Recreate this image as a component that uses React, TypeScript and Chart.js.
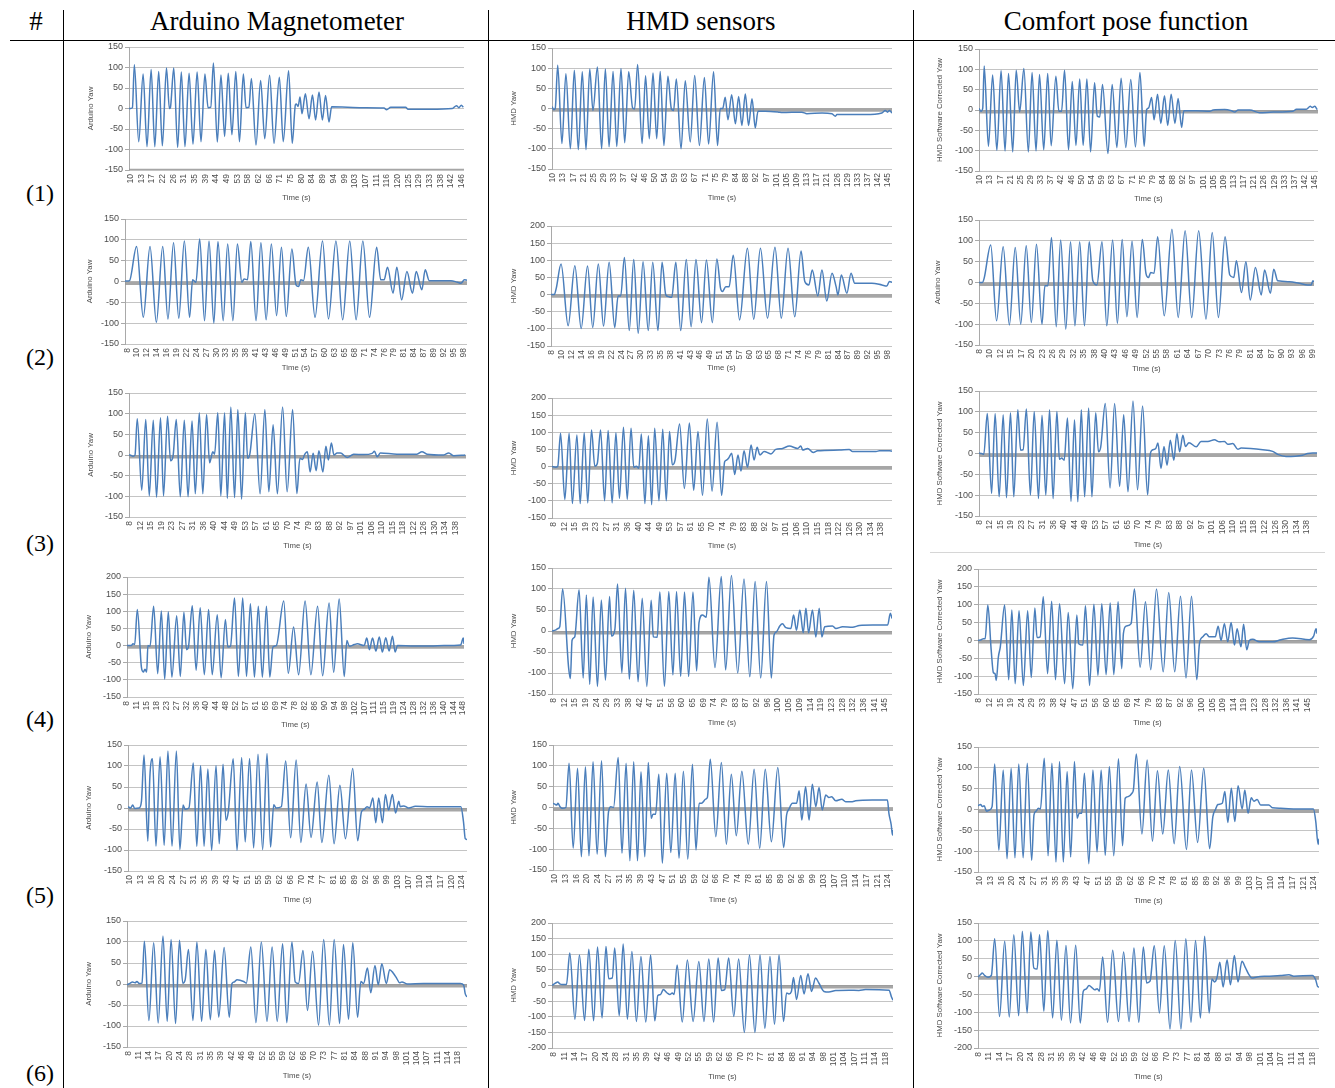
import React, { useEffect, useRef } from "react";
import { Chart, registerables } from "chart.js";

Chart.register(...registerables);

// ---------------- tick labels (time, s) ----------------
const TICKS_1A = [10, 13, 17, 22, 26, 31, 35, 39, 44, 49, 53, 58, 62, 66, 71, 75, 80, 84, 89, 94, 99, 103, 107, 111, 116, 120, 125, 129, 133, 138, 142, 146];
const TICKS_1BC = [10, 13, 17, 21, 25, 29, 33, 37, 42, 46, 50, 54, 59, 63, 67, 71, 75, 79, 84, 88, 92, 97, 101, 105, 109, 113, 117, 121, 126, 129, 133, 137, 142, 145];
const TICKS_2AB = [8, 10, 12, 14, 16, 19, 22, 24, 27, 30, 33, 35, 38, 41, 43, 46, 49, 51, 54, 57, 60, 63, 65, 68, 71, 74, 76, 79, 81, 84, 87, 89, 92, 95, 98];
const TICKS_2C = [8, 10, 12, 15, 17, 20, 23, 26, 29, 32, 35, 38, 40, 43, 46, 49, 52, 55, 58, 61, 64, 67, 70, 73, 76, 79, 81, 84, 87, 90, 93, 96, 99];
const TICKS_3 = [8, 12, 15, 19, 23, 27, 31, 36, 40, 44, 49, 53, 57, 61, 65, 70, 74, 79, 83, 88, 92, 97, 101, 106, 110, 115, 118, 122, 126, 130, 134, 138];
const TICKS_4A = [8, 11, 15, 18, 23, 27, 32, 36, 40, 44, 48, 52, 57, 61, 65, 69, 74, 78, 82, 86, 90, 94, 98, 102, 107, 111, 115, 119, 124, 128, 132, 136, 140, 144, 148];
const TICKS_4BC = [8, 12, 15, 19, 24, 29, 33, 38, 42, 47, 51, 56, 60, 65, 69, 74, 79, 83, 87, 92, 96, 100, 105, 109, 114, 119, 123, 128, 132, 136, 141, 145];
const TICKS_5A = [10, 13, 16, 20, 24, 27, 31, 35, 39, 43, 47, 51, 55, 59, 62, 66, 70, 74, 77, 81, 85, 89, 92, 96, 99, 103, 107, 110, 114, 117, 120, 124];
const TICKS_5BC = [10, 13, 16, 20, 24, 27, 31, 35, 39, 43, 47, 51, 55, 59, 62, 66, 70, 74, 78, 81, 85, 89, 92, 96, 99, 103, 107, 110, 114, 117, 121, 124];
const TICKS_6 = [8, 11, 14, 17, 20, 24, 28, 31, 35, 39, 42, 46, 49, 52, 55, 59, 62, 66, 70, 73, 77, 81, 84, 88, 91, 94, 98, 101, 104, 107, 111, 114, 118];

// ---------------- series: [time (s), yaw (deg)] ----------------
const ARDUINO_1 = [[9.3,0],[10,0],[10.7,2],[11.5,107],[13.3,-81],[15.1,84],[16.7,-93],[18.4,95],[19.9,-93],[21.5,90],[23.0,-91],[24.7,99],[25.9,0],[26.3,2],[27.7,99],[29.3,-95],[30.8,89],[32.3,-93],[34.0,86],[35.6,-87],[37.3,89],[38.9,-81],[40.5,84],[41.8,2],[42.9,3],[44.0,111],[45.6,-82],[47.1,82],[48.6,-68],[50.1,86],[51.6,-64],[53.2,90],[54.7,-81],[56.3,84],[57.4,2],[58.6,3],[59.6,73],[61.5,-89],[63.4,68],[65.1,-74],[67.1,81],[68.9,-85],[71.1,76],[72.7,-81],[74.9,92],[76.4,-85],[77.7,9],[78.1,11],[78.8,5],[79.6,28],[80.4,-13],[81.8,36],[83.3,-25],[84.7,33],[86.0,-28],[87.4,40],[88.8,-28],[90.1,32],[91.5,-33],[92.6,4],[99.1,3],[105.9,2],[114.1,1],[115.2,-3],[116.9,3],[123.0,3],[124.0,-2],[133.3,-2],[142.2,0],[143.9,7],[144.9,2],[145.9,8],[146.7,3]];
const ARDUINO_2 = [[7.4,1],[8,1],[8.6,2],[10.5,84],[12.3,-86],[14.1,84],[15.8,-98],[17.5,84],[18.9,-90],[20.4,93],[21.8,-88],[23.3,97],[24.7,-86],[25.5,4],[26.4,-2],[27.4,102],[28.7,-94],[29.9,97],[31.2,-100],[32.3,96],[33.7,-94],[34.9,90],[36.3,-94],[37.5,90],[38.7,-2],[39.3,6],[40.2,4],[41.1,96],[42.5,-94],[43.8,93],[45.2,-92],[46.6,90],[48.0,-82],[49.3,82],[50.6,-84],[52.1,78],[53.2,-8],[53.9,-12],[54.5,4],[55.2,2],[56.5,82],[58.3,-86],[60.3,97],[61.9,-90],[63.9,97],[65.7,-92],[67.6,97],[69.3,-92],[71.1,97],[72.9,-86],[74.8,82],[75.9,4],[76.8,4],[77.7,34],[79.2,-28],[80.2,34],[81.5,-44],[82.9,24],[84.4,-28],[85.4,24],[86.9,-20],[87.8,28],[88.9,2],[94.7,2],[96.5,-2],[97.4,-4],[98.3,4],[99,3]];
const ARDUINO_3 = [[7.6,0],[8,0],[9.2,-3],[10.0,0],[10.9,88],[12.7,-85],[14.3,86],[15.7,-99],[17.3,84],[18.6,-102],[20.2,90],[21.4,-99],[23.0,94],[24.2,-14],[25.2,-3],[26.5,86],[28.1,-101],[29.7,84],[31.2,-101],[32.8,82],[34.1,-94],[35.7,102],[37.1,-94],[38.6,98],[39.8,-19],[41.1,8],[41.8,2],[43.1,102],[44.3,-99],[45.8,102],[46.9,-105],[48.3,116],[49.8,-103],[51.1,110],[52.6,-107],[54.1,102],[55.0,-8],[55.9,2],[57.9,100],[60.0,-94],[61.9,110],[63.5,-89],[65.2,73],[66.9,-94],[69.0,116],[70.8,-89],[73.0,110],[74.7,-93],[75.9,-8],[77.0,-11],[77.7,0],[78.9,8],[80.0,-41],[81.2,4],[82.4,-38],[83.5,10],[85.1,-41],[86.3,21],[87.3,-12],[88.5,29],[89.5,0],[90.8,5],[92.1,5],[94.8,-6],[97.4,2],[101.4,1],[104.8,4],[105.7,9],[106.8,-4],[108.1,5],[114.7,2],[122.7,2],[124.7,8],[126.7,2],[133.4,0],[135.4,5],[137.4,-2],[142.0,0]];
const ARDUINO_4 = [[8,0],[9.8,0],[10.5,5],[11.2,3],[12.3,105],[14.0,-63],[14.8,-77],[15.5,-69],[16.2,-77],[16.7,0],[17.6,-2],[19.1,115],[20.8,-82],[22.3,101],[23.7,-98],[25.2,99],[26.7,-92],[28.7,87],[30.2,-90],[31.7,97],[32.8,-12],[33.6,-4],[35.2,116],[36.8,-72],[38.5,110],[40.2,-85],[42.0,105],[43.5,-85],[45.6,90],[47.2,-94],[49.0,76],[50.0,-4],[51.1,-2],[52.8,139],[54.4,-90],[56.2,139],[57.8,-90],[59.4,122],[61.1,-92],[62.7,115],[64.4,-92],[66.1,115],[67.5,-92],[68.8,-4],[70.2,0],[73.3,130],[75.2,-81],[77.4,54],[79.5,-85],[82.2,130],[84.6,-85],[87.4,115],[89.5,-88],[92.2,124],[94.1,-78],[96.4,136],[98.5,-90],[99.6,15],[100.6,-2],[102.7,3],[104.0,5],[106.8,0],[107.9,22],[109.0,-12],[110.3,22],[111.7,-16],[113.1,25],[114.4,-19],[115.8,23],[117.2,-16],[118.6,27],[119.7,-19],[120.7,0],[127.6,-1],[134.5,-1],[140.1,0],[147.0,2],[148.1,22],[148.4,5]];
const ARDUINO_5 = [[9.4,3],[10.3,0],[11.0,7],[11.7,-1],[13.2,0],[14.0,15],[14.9,126],[16.2,-79],[16.9,74],[17.8,117],[19.0,-91],[20.4,122],[21.8,-89],[23.1,136],[24.5,-91],[26.0,136],[27.2,-99],[28.3,7],[29.0,-3],[30.3,0],[31.8,107],[33.0,-91],[34.3,101],[35.5,-91],[36.8,93],[38.1,-101],[39.6,101],[40.7,-85],[42.0,104],[43.0,-29],[43.8,-9],[45.5,117],[46.8,-101],[48.4,120],[49.6,-81],[51.1,118],[52.5,-95],[54.0,128],[55.6,-99],[57.1,130],[58.3,-93],[59.4,8],[60.2,0],[62.0,3],[63.5,112],[65.2,-71],[67.1,114],[68.7,-82],[70.5,57],[72.2,-70],[74.3,62],[75.9,-82],[78.3,78],[80.1,-85],[82.1,54],[84.0,-73],[86.5,94],[88.2,-78],[89.5,-9],[90.5,-3],[91.4,3],[92.3,0],[93.4,24],[94.4,-35],[95.4,24],[96.7,-35],[97.7,32],[98.8,-5],[100.1,32],[101.2,-12],[102.3,16],[102.8,3],[104.0,5],[105.7,0],[108.0,4],[113.1,3],[118.8,3],[123.6,3],[124.5,-33],[125.1,-73],[125.7,-75]];
const ARDUINO_6 = [[7.6,-2],[8.7,2],[9.4,5],[10.3,3],[10.9,6],[11.7,1],[12.6,2],[13.4,102],[14.9,-87],[16.5,98],[18.0,-93],[19.6,114],[21.0,-89],[22.3,106],[23.8,-94],[25.1,104],[26.2,2],[27.0,10],[28.1,82],[29.6,-87],[30.9,100],[32.5,-89],[33.9,82],[35.4,-85],[36.8,80],[38.2,-79],[40.0,87],[41.7,-79],[42.6,1],[43.4,5],[44.3,10],[46.5,6],[47.4,2],[48.9,88],[50.6,-92],[52.4,100],[54.3,-89],[56.0,88],[57.7,-89],[59.5,96],[60.9,-92],[62.6,100],[63.7,5],[64.8,1],[66.3,80],[67.8,-63],[69.5,78],[71.5,-98],[73.2,106],[75.1,-98],[76.7,106],[78.5,-94],[79.8,94],[81.5,-84],[82.9,98],[84.5,-79],[85.6,6],[86.5,1],[87.8,38],[88.9,-21],[90.3,44],[91.4,-2],[92.6,48],[94.1,1],[95.2,34],[96.3,27],[97.6,13],[98.5,3],[99.3,5],[101.0,0],[106.5,1],[113.2,1],[118.8,1],[119.9,-3],[120.4,-23],[121.0,-31]];

const HMD_1 = [[9.6,5],[10.3,-3],[10.9,0],[11.9,107],[13.6,-87],[15.2,86],[17.0,-100],[18.6,95],[20.2,-102],[21.8,91],[23.3,-102],[24.8,98],[26.1,-5],[27.9,103],[29.6,-100],[31.1,98],[32.6,-95],[34.2,92],[35.7,-94],[37.4,99],[38.9,-85],[40.5,91],[42.1,1],[42.9,-1],[44.1,109],[45.9,-87],[47.3,81],[48.8,-75],[50.3,88],[51.8,-75],[53.2,92],[54.7,-92],[56.3,80],[57.7,-1],[58.6,-5],[59.7,73],[61.6,-100],[63.3,69],[65.3,-83],[67.1,82],[69.0,-92],[71.0,77],[72.7,-88],[74.7,91],[76.3,-92],[77.4,0],[78.4,0],[79.4,28],[80.5,-28],[82.0,34],[83.5,-38],[84.8,30],[86.1,-42],[87.5,36],[88.8,-42],[90.2,24],[91.5,-48],[92.6,-7],[95.5,-7],[100.9,-9],[102.3,-10],[110.3,-9],[112.3,-13],[118.4,-11],[122.4,-13],[123.8,-19],[124.4,-15],[135.8,-15],[142.5,-11],[143.9,-5],[144.8,-9],[145.6,-5],[146.6,-11]];
const HMD_2 = [[7.7,0],[8.6,0],[9.1,18],[10.4,89],[12.3,-91],[14.1,84],[15.8,-99],[17.5,83],[18.9,-96],[20.4,89],[21.8,-92],[23.3,94],[24.8,-96],[25.7,-4],[26.4,-4],[27.4,108],[28.7,-105],[29.9,102],[31.1,-113],[32.4,96],[33.8,-105],[35.0,94],[36.4,-105],[37.5,94],[38.5,-1],[39.2,-6],[40.1,-8],[41.2,94],[42.5,-105],[44.0,102],[45.3,-94],[46.6,102],[48.1,-82],[49.4,101],[51.0,-82],[52.2,104],[53.2,18],[53.7,9],[54.6,23],[55.5,23],[56.6,115],[58.3,-74],[60.4,135],[62.1,-72],[63.9,135],[65.8,-69],[67.8,138],[69.5,-69],[71.3,135],[73.1,-65],[74.8,127],[75.8,38],[76.9,28],[77.8,72],[79.3,-4],[80.4,72],[81.7,-19],[83.1,62],[84.2,23],[84.7,-1],[85.6,57],[87.1,4],[88.2,62],[89.2,33],[93.8,33],[96.5,28],[97.8,25],[98.5,38],[99.2,36]];
const HMD_3 = [[7.3,0],[8.7,-2],[9.6,1],[10.7,97],[12.4,-96],[14.1,97],[15.4,-108],[17.2,92],[18.5,-108],[20.1,99],[21.5,-106],[23.0,107],[24.3,1],[25.3,9],[26.6,107],[28.2,-100],[29.6,105],[31.2,-106],[32.7,99],[34.1,-93],[35.7,115],[37.2,-96],[38.7,112],[39.8,-2],[40.8,1],[41.8,-5],[42.8,95],[44.2,-108],[45.6,90],[46.9,-111],[48.1,112],[49.8,-100],[51.3,109],[52.7,-100],[54.0,102],[55.1,5],[56.2,19],[58.0,124],[59.9,-64],[61.9,127],[63.6,-69],[65.3,102],[67.1,-84],[69.0,139],[70.9,-72],[72.9,129],[74.7,-84],[75.9,14],[76.7,19],[77.6,26],[78.7,39],[79.9,-23],[81.2,34],[82.4,-13],[83.6,46],[85.0,-2],[86.4,63],[87.6,19],[88.8,56],[89.9,34],[91.6,44],[94.3,37],[96.2,50],[98.9,53],[101.6,60],[104.9,53],[106.2,60],[106.9,48],[108.9,53],[111.1,41],[112.8,46],[121.5,48],[125.4,50],[126.7,44],[136.1,44],[137.4,46],[141.4,46],[142.4,45]];
const HMD_4 = [[7.3,0],[8.7,2],[9.8,6],[10.5,10],[11.7,100],[14.2,-89],[14.9,-113],[15.6,-22],[16.7,-14],[18.5,98],[20.2,-112],[21.5,86],[22.9,-127],[24.3,81],[26.1,-132],[27.7,74],[29.4,-117],[31.1,82],[31.9,-12],[33.3,4],[34.4,112],[36.2,-100],[37.7,102],[39.3,-115],[41.1,97],[42.9,-121],[44.6,78],[46.5,-132],[48.3,73],[49.2,-14],[50.8,-15],[51.9,93],[53.8,-132],[55.6,94],[57.3,-105],[58.8,94],[60.5,-108],[62.1,93],[63.8,-108],[65.6,93],[67.1,-95],[68.1,20],[69.5,38],[71.1,33],[72.2,128],[74.7,-87],[77.3,130],[79.1,-93],[81.5,132],[84.1,-100],[86.7,124],[89.1,-109],[91.3,118],[93.6,-112],[96.0,118],[98.0,-112],[99.1,-10],[100.1,-2],[101.5,12],[102.6,17],[104.0,8],[106.1,6],[107.2,38],[108.4,2],[109.8,50],[111.2,-4],[112.3,54],[113.4,-4],[115.0,50],[116.4,-14],[117.8,54],[118.9,-14],[120.1,10],[123.3,12],[124.7,6],[127.5,10],[131.6,9],[134.4,13],[139.9,14],[146.1,14],[147.2,42],[147.9,30]];
const HMD_5 = [[9.4,10],[10.0,8],[10.7,6],[11.1,10],[11.8,2],[12.6,-2],[13.8,0],[14.9,106],[16.3,-98],[17.8,94],[19.1,-118],[20.5,98],[21.7,-116],[23.1,110],[24.5,-112],[26.0,112],[27.3,-118],[28.4,-10],[29.2,2],[30.1,0],[31.7,120],[33.0,-110],[34.4,106],[35.7,-128],[37.0,110],[38.3,-128],[39.5,86],[40.8,-118],[42.0,108],[43.0,-26],[43.6,-16],[44.5,-16],[45.6,80],[46.8,-134],[48.3,82],[49.7,-108],[51.2,82],[52.5,-122],[54.0,87],[55.5,-124],[57.1,104],[58.3,-102],[59.4,10],[60.2,10],[61.6,20],[62.2,24],[63.2,116],[65.1,-70],[67.0,108],[68.7,-88],[70.4,80],[72.1,-68],[74.0,87],[76.2,-88],[78.2,92],[80.1,-98],[82.0,92],[84.1,-82],[86.3,96],[88.3,-96],[89.3,-18],[90.1,-4],[91.3,10],[92.7,10],[93.6,40],[94.5,-30],[95.8,50],[97.0,-30],[98.1,56],[99.3,2],[100.4,48],[101.5,-6],[102.7,30],[103.8,24],[104.7,26],[106.1,16],[108.2,20],[109.5,14],[111.8,14],[112.9,16],[118.6,18],[123.8,18],[124.3,-14],[125.1,-42],[125.5,-66],[125.7,-54]];
const HMD_6 = [[7.4,0],[8.6,8],[9.3,11],[10.0,5],[10.8,3],[12.2,3],[13.3,104],[15.0,-108],[16.5,98],[18.2,-112],[19.6,116],[21.2,-113],[22.5,123],[24.0,-104],[25.3,125],[26.2,22],[27.4,24],[28.2,120],[29.7,-97],[31.0,133],[32.4,-108],[33.9,109],[35.4,-115],[36.9,93],[38.5,-117],[40.1,98],[41.5,-113],[42.5,-32],[43.4,-29],[44.3,-13],[45.6,-24],[46.5,-29],[47.3,-24],[47.9,-29],[48.9,66],[50.6,-117],[52.3,82],[54.2,-115],[56.1,77],[57.8,-115],[59.4,85],[61.0,-117],[62.5,88],[63.6,-16],[64.7,-13],[66.0,88],[67.7,-99],[69.3,85],[71.2,-150],[72.9,98],[74.7,-150],[76.4,98],[78.0,-137],[79.7,93],[81.2,-124],[82.7,98],[84.2,-115],[85.2,-24],[86.0,-27],[86.8,-19],[87.5,26],[88.5,-45],[89.9,32],[91.0,-27],[92.3,38],[93.5,-19],[94.8,24],[95.9,8],[97.6,-19],[99.2,-21],[101.5,-16],[105.9,-15],[109.2,-16],[111.4,-13],[119.2,-15],[120.0,-37],[120.5,-47]];

const COMFORT_1 = [[9.6,4],[10.4,-3],[11.1,4],[11.7,108],[13.4,-89],[15.1,86],[16.8,-99],[18.5,97],[20.1,-101],[21.5,90],[23.2,-103],[24.6,98],[26.0,-5],[27.7,102],[29.5,-103],[31.0,92],[32.6,-101],[34.0,87],[35.7,-98],[37.3,90],[38.7,-88],[40.6,83],[41.8,-3],[42.9,-3],[44.1,98],[45.7,-98],[47.2,70],[48.7,-87],[50.2,76],[51.6,-87],[53.1,76],[54.6,-103],[56.2,67],[57.3,-15],[58.3,-17],[59.4,63],[61.6,-107],[63.3,63],[65.2,-92],[66.9,78],[68.8,-92],[70.8,75],[72.7,-91],[74.5,92],[76.2,-89],[77.2,1],[78.0,5],[79.2,31],[80.2,-24],[81.6,39],[82.9,-33],[84.4,35],[85.7,-38],[87.1,39],[88.6,-33],[89.9,28],[91.3,-43],[92.2,-2],[97.3,-2],[102.7,-3],[104.0,0],[108.7,1],[111.4,-2],[112.7,-5],[114.1,0],[118.8,0],[122.8,-7],[128.2,-5],[136.2,-3],[137.6,2],[141.6,2],[143.2,9],[144.0,6],[145.0,9],[146.0,1]];
const COMFORT_2 = [[7.8,0],[8.7,0],[9.2,10],[11.0,90],[12.6,-92],[14.4,86],[16.1,-102],[17.7,84],[19.2,-100],[20.7,88],[22.1,-96],[23.5,92],[25.0,-100],[25.8,-8],[26.6,-8],[27.6,108],[28.9,-106],[30.1,102],[31.5,-112],[32.8,98],[34.0,-104],[35.3,98],[36.6,-104],[37.9,98],[38.9,4],[40.0,-6],[41.4,98],[42.7,-104],[44.3,102],[45.6,-98],[46.9,103],[48.2,-82],[49.6,99],[51.0,-84],[52.4,103],[53.4,22],[54.1,12],[54.7,24],[55.6,22],[56.6,110],[58.4,-80],[60.5,128],[62.2,-84],[64.1,124],[65.9,-84],[67.8,124],[69.8,-88],[71.5,120],[73.2,-84],[75.0,110],[76.3,18],[77.4,12],[78.1,52],[79.5,-24],[80.7,50],[81.9,-42],[83.3,36],[84.9,-30],[85.8,30],[87.4,-26],[88.3,32],[89.4,4],[92.6,2],[95.3,-2],[97.6,-6],[98.5,-6],[99.0,4],[99.3,2]];
const COMFORT_3 = [[7.9,1],[8.9,0],[9.8,-2],[11.2,96],[12.9,-96],[14.3,96],[15.9,-104],[17.5,93],[18.8,-106],[20.4,98],[21.7,-104],[23.3,105],[24.4,8],[25.4,9],[26.7,107],[28.3,-100],[29.8,101],[31.5,-108],[32.9,92],[34.4,-100],[35.9,105],[37.3,-108],[38.8,101],[39.8,-14],[40.7,-11],[41.7,-16],[43.0,85],[44.4,-115],[45.8,81],[47.1,-116],[48.5,105],[49.8,-104],[51.4,109],[52.7,-104],[54.2,98],[55.3,4],[56.2,16],[58.0,120],[59.9,-83],[61.7,120],[63.7,-79],[65.3,93],[67.0,-92],[69.0,126],[70.8,-87],[72.8,114],[74.8,-99],[75.8,-4],[76.6,8],[78.0,12],[78.9,25],[80.1,-36],[81.3,17],[82.5,-28],[83.8,32],[85.2,-16],[86.4,48],[87.5,4],[88.8,44],[89.8,17],[91.2,26],[94.1,16],[96.0,29],[98.7,29],[101.3,33],[103.3,28],[105.3,29],[106.6,22],[108.6,24],[110.6,10],[111.9,13],[120.5,9],[124.4,5],[126.4,-2],[129.7,-7],[136.3,-4],[138.3,0],[140.3,1],[142.0,1]];
const COMFORT_4 = [[7.6,0],[9.0,2],[9.9,5],[10.6,5],[11.7,99],[13.1,-27],[14.0,-90],[14.7,-93],[15.2,-112],[16.1,-46],[16.9,-18],[18.7,99],[20.4,-110],[21.7,85],[23.1,-121],[24.7,83],[26.5,-126],[28.3,83],[29.8,-104],[31.3,91],[32.2,8],[33.5,10],[34.8,122],[36.6,-93],[38.3,110],[39.9,-110],[41.6,103],[43.7,-121],[45.2,78],[47.1,-135],[48.8,71],[49.6,-9],[51.3,-13],[52.4,97],[54.1,-126],[55.9,101],[57.6,-98],[59.2,103],[61.0,-96],[62.7,105],[64.2,-96],[66.0,108],[67.5,-79],[68.2,19],[69.3,40],[71.4,47],[72.8,144],[75.2,-75],[77.4,108],[79.6,-82],[82.0,144],[84.8,-88],[87.1,134],[89.6,-88],[92.0,124],[94.3,-105],[96.6,124],[98.8,-110],[99.9,-9],[101.3,10],[102.7,19],[104.0,10],[106.5,10],[107.7,40],[108.9,0],[110.3,47],[111.7,-4],[113.1,50],[114.5,-13],[115.6,33],[117.2,-18],[118.3,45],[119.6,-26],[120.7,0],[122.1,3],[124.9,-4],[130.4,-4],[133.9,2],[138.7,7],[145.7,2],[147.5,12],[148.5,33],[148.9,19]];
const COMFORT_5 = [[9.4,9],[10.3,12],[10.9,7],[11.5,9],[12.3,-4],[13.4,-1],[14.2,7],[15.1,109],[16.5,-98],[18.0,95],[19.3,-118],[20.7,99],[22.0,-116],[23.3,109],[24.8,-116],[26.2,111],[27.7,-122],[28.5,-13],[29.2,-4],[30.0,3],[30.7,1],[32.0,123],[33.3,-111],[34.6,111],[36.0,-126],[37.2,115],[38.5,-126],[39.8,91],[41.0,-114],[42.3,115],[43.2,-21],[43.9,-9],[44.8,-9],[45.7,87],[47.2,-130],[48.6,95],[50.0,-102],[51.4,95],[52.8,-110],[54.2,103],[55.7,-111],[57.3,122],[58.7,-87],[59.6,27],[60.7,31],[61.9,39],[62.4,47],[63.4,133],[65.3,-59],[67.1,119],[68.9,-76],[70.6,93],[72.4,-59],[74.3,95],[76.3,-82],[78.2,103],[80.5,-96],[82.2,95],[84.3,-79],[86.4,99],[88.4,-94],[89.5,-17],[90.4,0],[91.2,12],[92.7,15],[93.6,43],[94.6,-31],[95.8,51],[97.0,-29],[98.1,57],[99.5,1],[100.4,47],[101.5,-9],[102.6,28],[103.5,20],[104.6,24],[105.8,11],[108.6,11],[109.8,4],[112.6,3],[118.3,1],[123.8,1],[124.6,-29],[125.4,-84],[125.7,-70]];
const COMFORT_6 = [[7.8,-1],[8.6,5],[9.2,10],[10.0,3],[11.1,-2],[12.2,3],[13.3,106],[14.9,-112],[16.6,99],[18.1,-113],[19.6,117],[21.2,-110],[22.4,127],[24.0,-102],[25.2,125],[26.2,24],[27.3,21],[28.1,117],[29.5,-97],[30.8,129],[32.4,-116],[33.8,102],[35.3,-122],[36.8,87],[38.3,-130],[40.0,88],[41.5,-130],[42.5,-41],[43.4,-35],[44.4,-25],[45.5,-32],[46.3,-37],[47.1,-34],[47.8,-41],[48.9,55],[50.5,-128],[52.2,74],[54.1,-126],[55.8,69],[57.6,-126],[59.2,80],[60.8,-128],[62.3,83],[63.4,-18],[64.5,-13],[65.9,86],[67.6,-102],[69.2,86],[71.1,-147],[72.8,101],[74.7,-147],[76.3,106],[78.0,-128],[79.5,101],[81.1,-116],[82.5,113],[84.0,-102],[84.9,-7],[85.8,-15],[86.6,-2],[87.5,40],[88.6,-29],[89.9,47],[91.0,-23],[92.3,59],[93.5,-15],[94.8,43],[95.9,26],[97.0,7],[98.1,-4],[99.8,-1],[103.1,1],[107.5,3],[110.3,5],[111.9,1],[118.0,3],[119.1,-9],[119.7,-27],[120.2,-30]];

// reference (comfort-zone) line value per chart, A1..A6, B1..B6, C1..C6
const BASELINE = [-151, -4, -4, -4, -4, -4, -4, -4, -4, -4, -4, -4, -4, -4, -4, -4, -4, -4];
// x-axis ranges (s)
const X_RANGE = [[9.3,147],[7.4,99],[7.6,142.3],[8,148.4],[9.4,125.7],[7.6,121],[9.6,146.6],[7.7,99.2],[7.3,142.4],[7.3,147.9],[9.4,125.7],[7.4,120.5],[9.6,146.3],[7.8,99.3],[7.9,142],[7.6,148.9],[9.4,125.7],[7.8,120.2]];
// y-axis ranges (deg)
const Y_RANGE = [[-150,150],[-150,150],[-150,150],[-150,200],[-150,150],[-150,150],[-150,150],[-150,200],[-150,200],[-150,150],[-150,150],[-200,200],[-150,150],[-150,150],[-150,150],[-150,200],[-150,150],[-200,150]];
const SERIES = [ARDUINO_1, ARDUINO_2, ARDUINO_3, ARDUINO_4, ARDUINO_5, ARDUINO_6, HMD_1, HMD_2, HMD_3, HMD_4, HMD_5, HMD_6, COMFORT_1, COMFORT_2, COMFORT_3, COMFORT_4, COMFORT_5, COMFORT_6];
const TICK_SETS = [TICKS_1A, TICKS_2AB, TICKS_3, TICKS_4A, TICKS_5A, TICKS_6, TICKS_1BC, TICKS_2AB, TICKS_3, TICKS_4BC, TICKS_5BC, TICKS_6, TICKS_1BC, TICKS_2C, TICKS_3, TICKS_4BC, TICKS_5BC, TICKS_6];
const Y_TITLES = ["Arduino Yaw", "Arduino Yaw", "Arduino Yaw", "Arduino Yaw", "Arduino Yaw", "Arduino Yaw", "HMD Yaw", "HMD Yaw", "HMD Yaw", "HMD Yaw", "HMD Yaw", "HMD Yaw", "HMD Software Corrected Yaw", "Arduino Yaw", "HMD Software Corrected Yaw", "HMD Software Corrected Yaw", "HMD Software Corrected Yaw", "HMD Software Corrected Yaw"];
const COLUMN_TITLES = ["Arduino Magnetometer", "HMD sensors", "Comfort pose function"];
const ROW_TITLES = ["(1)", "(2)", "(3)", "(4)", "(5)", "(6)"];

// ---------------- layout (page px): plotLeft, plotTop, plotRight, plotBottom, xTitleY, yTitleX ----------------
const GEOM = [
  [129, 47, 464, 170, 198, 91], [125, 219, 467, 344, 368, 90], [129, 393, 466, 517, 546, 91],
  [127, 577, 464, 697, 725, 89], [128, 745, 467, 871, 900, 89], [127, 921, 467, 1047, 1076, 89],
  [552, 48, 892, 169, 198, 514], [551, 226, 892, 346, 368, 514], [552, 398, 892, 518, 546, 514],
  [552, 568, 892, 694, 723, 514], [553, 745, 893, 870, 900, 514], [552, 923, 893, 1048, 1077, 514],
  [979, 49, 1318, 171, 199, 940], [979, 220, 1314, 345, 369, 938], [979, 391, 1317, 516, 545, 940],
  [978, 569, 1317, 694, 723, 940], [978, 747, 1319, 872, 901, 940], [978, 923, 1319, 1048, 1077, 940],
];
const COL_CENTERS = [277, 701, 1126];
const ROW_CENTERS = [195, 359, 545, 721, 897, 1075];

const BLUE = "#4a7ebb";
const BAND = "rgba(150,150,150,0.85)";
const GRID = "#c4c4c4";
const AXIS = "#a9a9a9";
const TXT = "#4d4d4d";
const SANS = "'Liberation Sans', Arial, sans-serif";
const SERIF = "'Liberation Serif', 'Times New Roman', serif";
const TITLE_SIZE = 7.8;
const TICK_SIZE_X = 8.5;
const TICK_SIZE_Y = 9;
const PAD_T = 8;
const PAD_R = 7;

function SmallChart({ idx }: { idx: number }) {
  const ref = useRef<HTMLCanvasElement | null>(null);
  const [pl, pt, pr, pb, ty, yx] = GEOM[idx];
  const LH = TITLE_SIZE * 1.2;
  const cLeft = Math.round(yx - LH / 2);
  const cTop = Math.round(pt - PAD_T);
  const padTop = pt - cTop;
  const yW = pl - cLeft;
  const width = Math.round(pr + PAD_R - cLeft);
  const padRight = width - (pr - cLeft);
  const height = Math.round(ty + LH / 2 - cTop);
  const xH = height - padTop - (pb - pt);

  useEffect(() => {
    const labels = TICK_SETS[idx];
    const n = labels.length;
    const first = labels[0];
    const last = labels[n - 1];
    const [xmin, xmax] = X_RANGE[idx];
    const [ymin, ymax] = Y_RANGE[idx];
    const chart = new Chart(ref.current as HTMLCanvasElement, {
      type: "line",
      data: {
        datasets: [
          {
            data: SERIES[idx].map(([x, y]) => ({ x, y })),
            borderColor: BLUE,
            borderWidth: 1.5,
            pointRadius: 0,
            cubicInterpolationMode: "monotone",
            fill: false,
          },
          {
            data: [{ x: xmin, y: BASELINE[idx] }, { x: xmax, y: BASELINE[idx] }],
            borderColor: BAND,
            borderWidth: 3.5,
            pointRadius: 0,
            fill: false,
          },
        ],
      },
      options: {
        animation: false,
        responsive: false,
        events: [],
        layout: { padding: { top: padTop, right: padRight, left: 0, bottom: 0 } },
        plugins: { legend: { display: false }, tooltip: { enabled: false } },
        scales: {
          x: {
            type: "linear",
            min: xmin,
            max: xmax,
            grid: { display: false, drawTicks: false },
            border: { display: false },
            ticks: {
              autoSkip: false,
              minRotation: 90,
              maxRotation: 90,
              padding: 4,
              color: TXT,
              font: { family: SANS, size: TICK_SIZE_X },
              callback: (_v: any, i: number) => String(labels[i]),
            },
            afterBuildTicks: (s: any) => {
              s.ticks = labels.map((_l, i) => ({ value: first + (i * (last - first)) / (n - 1) }));
            },
            afterFit: (s: any) => {
              s.height = xH;
              s.paddingLeft = 0; s.paddingRight = 0; s.paddingTop = 0; s.paddingBottom = 0;
            },
            title: { display: true, text: "Time (s)", color: TXT, padding: 0, font: { family: SANS, size: TITLE_SIZE } },
          },
          y: {
            type: "linear",
            min: ymin,
            max: ymax,
            grid: { color: GRID, lineWidth: 1, drawTicks: true, tickLength: 4, tickColor: AXIS },
            border: { display: true, color: AXIS, width: 1 },
            ticks: { stepSize: 50, padding: 2, color: TXT, font: { family: SANS, size: TICK_SIZE_Y } },
            afterFit: (s: any) => {
              s.width = yW;
              s.paddingLeft = 0; s.paddingRight = 0; s.paddingTop = 0; s.paddingBottom = 0;
            },
            title: { display: true, text: Y_TITLES[idx], color: TXT, padding: 0, font: { family: SANS, size: TITLE_SIZE } },
          },
        },
      } as any,
    });
    return () => chart.destroy();
  }, [idx]);

  return (
    <canvas
      ref={ref}
      width={width}
      height={height}
      style={{ position: "absolute", left: cLeft, top: cTop, width, height }}
    />
  );
}

function Line({ x, y, w, h, color }: { x: number; y: number; w: number; h: number; color: string }) {
  return <div style={{ position: "absolute", left: x, top: y, width: w, height: h, background: color }} />;
}

export default function App() {
  return (
    <div style={{ position: "absolute", left: 0, top: 0, width: 1335, height: 1088, background: "#fff", overflow: "hidden" }}>
      <div style={{ position: "absolute", left: 36 - 30, width: 60, top: 8, textAlign: "center", fontFamily: SERIF, fontSize: 27, lineHeight: "27px", color: "#000" }}>#</div>
      {COLUMN_TITLES.map((t, i) => (
        <div key={t} style={{ position: "absolute", left: COL_CENTERS[i] - 200, width: 400, top: 8, textAlign: "center", fontFamily: SERIF, fontSize: 27, lineHeight: "27px", color: "#000", whiteSpace: "nowrap" }}>{t}</div>
      ))}
      {ROW_TITLES.map((t, i) => (
        <div key={t} style={{ position: "absolute", left: 10, width: 60, top: ROW_CENTERS[i] - 14, textAlign: "center", fontFamily: SERIF, fontSize: 24, lineHeight: "24px", color: "#000" }}>{t}</div>
      ))}
      {GEOM.map((_g, i) => (
        <SmallChart key={i} idx={i} />
      ))}
      <Line x={10} y={40} w={1325} h={1} color="#000" />
      <Line x={63} y={10} w={1} h={1078} color="#000" />
      <Line x={488} y={10} w={1} h={1078} color="#000" />
      <Line x={913} y={10} w={1} h={1078} color="#000" />
      <Line x={930} y={552} w={395} h={1} color="#d6d6d6" />
    </div>
  );
}
